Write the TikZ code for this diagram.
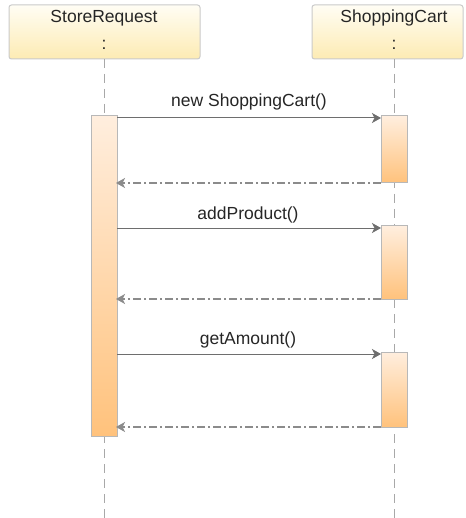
\documentclass[tikz,border=0pt]{standalone}
\usepackage{fontspec}
\setmainfont{Liberation Sans}
\usetikzlibrary{arrows.meta,calc}
\definecolor{boxtop}{HTML}{FFFDF4}
\definecolor{boxbot}{HTML}{FDEBB3}
\definecolor{boxline}{HTML}{CACACA}
\definecolor{acttop}{HTML}{FFEEDE}
\definecolor{actbot}{HTML}{FFC27C}
\definecolor{actline}{HTML}{B8B8B8}
\definecolor{msgline}{HTML}{6E6E6E}
\definecolor{lifeline}{HTML}{A8A8A8}
\tikzset{
  objbox/.style={draw=boxline, line width=1pt, rounded corners=2.5pt, top color=boxtop, bottom color=boxbot, inner sep=0pt},
  actbar/.style={draw=actline, line width=1pt, top color=acttop, bottom color=actbot, inner sep=0pt},
  txt/.style={font=\fontsize{17.5}{20}\selectfont, text=black!85, inner sep=0pt, anchor=base},
  lifel/.style={draw=lifeline, line width=1pt, dash pattern=on 9pt off 6pt},
  callmsg/.style={draw=msgline, line width=1pt, -{Stealth[length=9pt,width=10pt,inset=2.5pt]}},
  retmsg/.style={draw=msgline!80, line width=1.2pt, dash pattern=on 8pt off 3pt on 2pt off 3pt, -{Stealth[length=9pt,width=10pt,inset=2.5pt,sep=-1pt]}},
}
\begin{document}
\begin{tikzpicture}[x=1pt,y=-1pt]
\useasboundingbox[fill=white] (0,0) rectangle (465,518);
% object boxes
\path[objbox] (9,5) rectangle (200,59);
\path[objbox] (312,5) rectangle (463,59);
\node[txt] (srname) at (104,23) {StoreRequest};
\node[txt] (srcolon) at (104,50) {:};
\node[txt] (scname) at (394,23) {ShoppingCart};
\node[txt] (sccolon) at (394,50) {:};
\coordinate (srtop) at (104,59);
\coordinate (srbot) at (104,518);
\coordinate (sctop) at (394,59);
\coordinate (scbot) at (394,518);
% lifelines
\draw[lifel] (srtop) -- (srbot);
\draw[lifel] (sctop) -- (scbot);
% activation bars
\node[actbar, minimum width=26pt, minimum height=320pt] (barL) at (104,276) {};
\node[actbar, minimum width=26pt, minimum height=67pt] (barR1) at (394,149.5) {};
\node[actbar, minimum width=26pt, minimum height=73pt] (barR2) at (394,262.5) {};
\node[actbar, minimum width=26pt, minimum height=75pt] (barR3) at (394,389.5) {};
% call messages
\coordinate (c1s) at (117,118);
\coordinate (c1e) at (381,118);
\draw[callmsg] (c1s) -- (c1e);
\node[txt] (m1) at (249,107) {new ShoppingCart()};
\coordinate (r1s) at (381,183);
\coordinate (r1e) at (117,183);
\draw[retmsg] (r1s) -- (r1e);
\coordinate (c2s) at (117,228);
\coordinate (c2e) at (381,228);
\draw[callmsg] (c2s) -- (c2e);
\node[txt] (m2) at (248,219) {addProduct()};
\coordinate (r2s) at (381,299);
\coordinate (r2e) at (117,299);
\draw[retmsg] (r2s) -- (r2e);
\coordinate (c3s) at (117,354);
\coordinate (c3e) at (381,354);
\draw[callmsg] (c3s) -- (c3e);
\node[txt] (m3) at (248,344) {getAmount()};
\coordinate (r3s) at (381,427);
\coordinate (r3e) at (117,427);
\draw[retmsg] (r3s) -- (r3e);
\end{tikzpicture}
\end{document}
